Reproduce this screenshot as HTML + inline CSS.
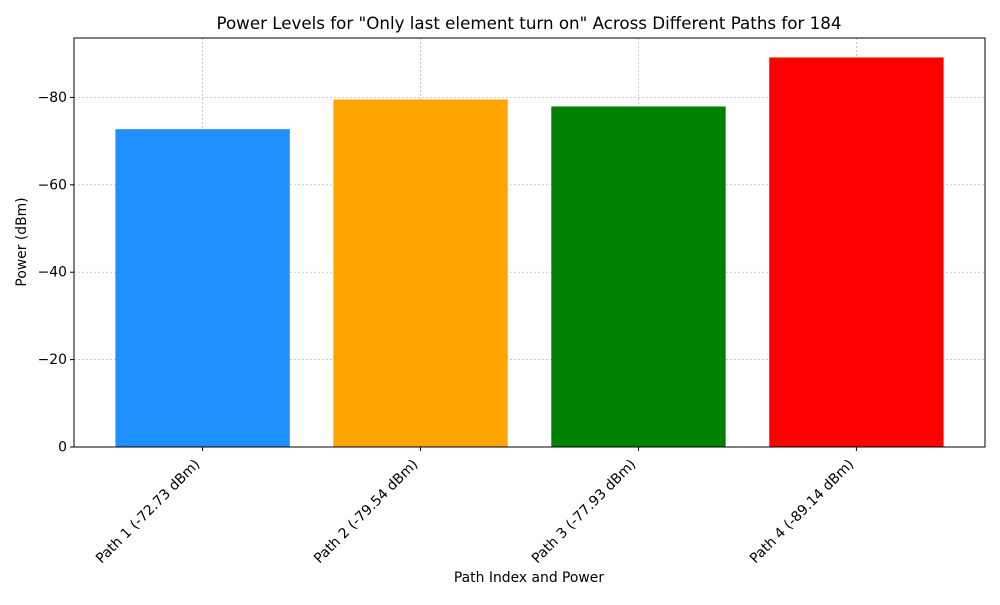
<!DOCTYPE html>
<html><head><meta charset="utf-8"><style>
body{margin:0;background:#fff;}
svg text{font-family:"DejaVu Sans","Liberation Sans",sans-serif;fill:#000;}
</style></head><body>
<svg id="chart" width="1000" height="600" xmlns="http://www.w3.org/2000/svg">
<text x="529" y="29" font-size="16.7" text-anchor="middle">Power Levels for "Only last element turn on" Across Different Paths for 184</text>
<g id="grid"></g><g id="bars"></g><g id="axes"></g>
<text x="529" y="582" font-size="13.9" text-anchor="middle">Path Index and Power</text>
<text transform="translate(26,242) rotate(-90)" font-size="13.9" text-anchor="middle">Power (dBm)</text>
</svg>
<script>
const categories = ["Path 1 (-72.73 dBm)","Path 2 (-79.54 dBm)","Path 3 (-77.93 dBm)","Path 4 (-89.14 dBm)"];
const values = [-72.73,-79.54,-77.93,-89.14];
const colors = ["#1e90ff","#ffa500","#008000","#ff0000"];
const yTicks = [0,-20,-40,-60,-80];
const yTickLabels = ["0","\u221220","\u221240","\u221260","\u221280"];
const NS="http://www.w3.org/2000/svg";
const L=74,R=985,T=38,B=447;
const ymin=0, ymax=Math.min(...values)*1.05;
const xmin=-0.59, xmax=categories.length-1+0.59;
const xS=v=>L+(v-xmin)/(xmax-xmin)*(R-L);
const yS=v=>B-(v-ymin)/(ymax-ymin)*(B-T);
function mk(t,a,p){const e=document.createElementNS(NS,t);for(const k in a)e.setAttribute(k,a[k]);p.appendChild(e);return e;}
const grid=document.getElementById('grid'),bars=document.getElementById('bars'),axes=document.getElementById('axes');
values.forEach((v,i)=>{
  const x0=xS(i-0.4),x1=xS(i+0.4),y=yS(v);
  const r=mk('rect',{x:x0,y:y,width:x1-x0,height:B-y,fill:colors[i]},bars);
  
  
});
categories.forEach((c,i)=>{
  const x=xS(i);
  mk('line',{x1:x,x2:x,y1:T,y2:B,stroke:'#b0b0b0','stroke-width':0.7,'stroke-dasharray':'2,2'},grid);
  mk('line',{x1:x,x2:x,y1:B,y2:B+4,stroke:'#000'},axes);
  const t=mk('text',{x:0,y:0,'font-size':13.9,'text-anchor':'end',transform:`translate(${x-2},${B+18}) rotate(-45)`},axes);
  t.textContent=c;
  
  
});
yTicks.forEach((v,i)=>{
  const y=yS(v);
  mk('line',{x1:L,x2:R,y1:y,y2:y,stroke:'#b0b0b0','stroke-width':0.7,'stroke-dasharray':'2,2'},grid);
  mk('line',{x1:L-4,x2:L,y1:y,y2:y,stroke:'#000'},axes);
  const t=mk('text',{x:L-7,y:y+4.5,'font-size':13.9,'text-anchor':'end'},axes);
  t.textContent=yTickLabels[i];
  
  
});
const f=mk('rect',{x:L,y:T,width:R-L,height:B-T,fill:'none',stroke:'#000','stroke-width':1},axes);


</script>
</body></html>
